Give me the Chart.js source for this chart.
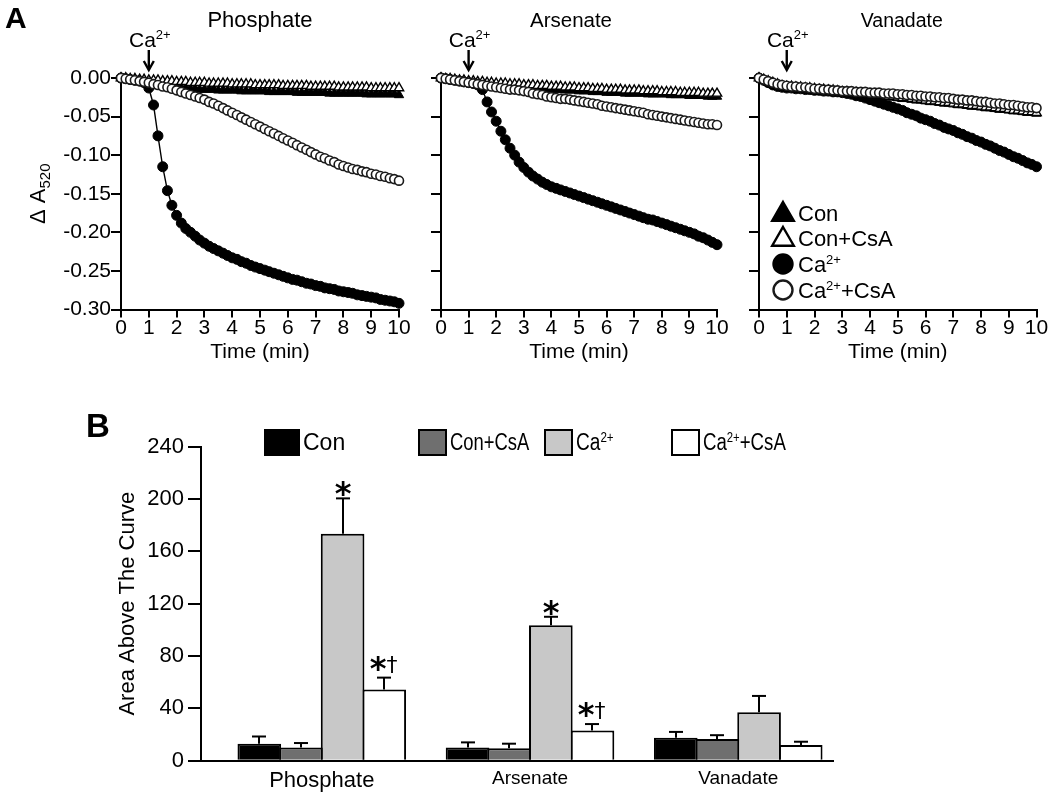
<!DOCTYPE html>
<html><head><meta charset="utf-8">
<script src="https://cdn.jsdelivr.net/npm/chart.js@4.4.1/dist/chart.umd.min.js"></script>
<style>
html,body{margin:0;padding:0;background:#fff;}
#wrap{position:relative;width:1050px;height:793px;overflow:hidden;background:#fff;}
canvas{position:absolute;left:0;top:0;}
</style></head><body>
<div id="wrap">
<canvas id="cPhos" width="1050" height="793"></canvas>
<canvas id="cArs" width="1050" height="793"></canvas>
<canvas id="cVan" width="1050" height="793"></canvas>
<canvas id="cBar" width="1050" height="793"></canvas>
</div>
<script>
// ---------- Panel A data (ΔA520 vs time, 10 s sampling) ----------
const timeMin = [0,0.17,0.33,0.5,0.67,0.83,1,1.17,1.33,1.5,1.67,1.83,2,2.17,2.33,2.5,2.67,2.83,3,3.17,3.33,3.5,3.67,3.83,4,4.17,4.33,4.5,4.67,4.83,5,5.17,5.33,5.5,5.67,5.83,6,6.17,6.33,6.5,6.67,6.83,7,7.17,7.33,7.5,7.67,7.83,8,8.17,8.33,8.5,8.67,8.83,9,9.17,9.33,9.5,9.67,9.83,10];
const seriesLabels = ['Con','Con+CsA','Ca²⁺','Ca²⁺+CsA'];
const panelTitles = ['Phosphate','Arsenate','Vanadate'];
const yTicksA = [0,-0.05,-0.10,-0.15,-0.20,-0.25,-0.30];
const calciumAddTime = 1;

const phosCon = [0,-0.001,-0.002,-0.003,-0.004,-0.005, -0.006,-0.007,-0.008,-0.009,-0.010,-0.011, -0.012,-0.013,-0.013,-0.014,-0.014,-0.015, -0.015,-0.015,-0.015,-0.016,-0.016,-0.016, -0.016,-0.016,-0.017,-0.017,-0.017,-0.017, -0.017,-0.017,-0.018,-0.018,-0.018,-0.018, -0.018,-0.018,-0.019,-0.019,-0.019,-0.019, -0.019,-0.019,-0.019,-0.020,-0.020,-0.020, -0.020,-0.020,-0.020,-0.020,-0.020,-0.021, -0.021,-0.021,-0.021,-0.021,-0.021,-0.021, -0.022];
const phosConCsA = [0,0,-0.001,-0.001,-0.002,-0.002, -0.003,-0.003,-0.003,-0.004,-0.004,-0.004, -0.005,-0.005,-0.005,-0.006,-0.006,-0.006, -0.006,-0.007,-0.007,-0.007,-0.007,-0.007, -0.008,-0.008,-0.008,-0.008,-0.008,-0.009, -0.009,-0.009,-0.009,-0.009,-0.009,-0.010, -0.010,-0.010,-0.010,-0.010,-0.010,-0.011, -0.011,-0.011,-0.011,-0.011,-0.011,-0.012, -0.012,-0.012,-0.012,-0.012,-0.012,-0.012, -0.013,-0.013,-0.013,-0.013,-0.013,-0.013, -0.013];
const phosCa = [0,-0.001,-0.002,-0.003,-0.004,-0.006, -0.013,-0.035,-0.075,-0.115,-0.146,-0.165, -0.178,-0.188,-0.195,-0.200,-0.205,-0.210, -0.214,-0.218,-0.221,-0.224,-0.227,-0.230, -0.233,-0.235,-0.238,-0.240,-0.243,-0.245, -0.247,-0.249,-0.251,-0.253,-0.255,-0.257, -0.259,-0.261,-0.262,-0.264,-0.266,-0.267, -0.269,-0.270,-0.272,-0.273,-0.274,-0.276, -0.277,-0.278,-0.279,-0.281,-0.282,-0.283, -0.284,-0.285,-0.287,-0.288,-0.289,-0.290, -0.292];
const phosCaCsA = [0,-0.001,-0.002,-0.003,-0.004,-0.005, -0.006,-0.008,-0.009,-0.011,-0.012,-0.014, -0.016,-0.018,-0.020,-0.022,-0.024,-0.026, -0.028,-0.031,-0.033,-0.036,-0.039,-0.042, -0.045,-0.048,-0.051,-0.054,-0.057,-0.060, -0.063,-0.066,-0.069,-0.072,-0.075,-0.078, -0.081,-0.084,-0.087,-0.090,-0.093,-0.096, -0.099,-0.102,-0.104,-0.107,-0.109,-0.112, -0.114,-0.116,-0.118,-0.119,-0.121,-0.122, -0.124,-0.125,-0.127,-0.128,-0.130,-0.131, -0.133];

const arsCon = [0,-0.001,-0.002,-0.003,-0.004,-0.005, -0.006,-0.007,-0.007,-0.008,-0.009,-0.009, -0.010,-0.010,-0.011,-0.011,-0.012,-0.012, -0.013,-0.013,-0.013,-0.014,-0.014,-0.014, -0.015,-0.015,-0.015,-0.016,-0.016,-0.016, -0.017,-0.017,-0.017,-0.018,-0.018,-0.018, -0.019,-0.019,-0.019,-0.019,-0.020,-0.020, -0.020,-0.020,-0.020,-0.021,-0.021,-0.021, -0.021,-0.021,-0.022,-0.022,-0.022,-0.022, -0.023,-0.023,-0.023,-0.023,-0.024,-0.024, -0.024];
const arsConCsA = [0,-0.001,-0.001,-0.002,-0.003,-0.003, -0.004,-0.004,-0.005,-0.005,-0.006,-0.006, -0.007,-0.007,-0.007,-0.008,-0.008,-0.008, -0.009,-0.009,-0.009,-0.010,-0.010,-0.010, -0.011,-0.011,-0.011,-0.012,-0.012,-0.012, -0.013,-0.013,-0.013,-0.014,-0.014,-0.014, -0.015,-0.015,-0.015,-0.015,-0.016,-0.016, -0.016,-0.016,-0.017,-0.017,-0.017,-0.017, -0.018,-0.018,-0.018,-0.018,-0.019,-0.019, -0.019,-0.019,-0.019,-0.020,-0.020,-0.020, -0.020];
const arsCa = [0,-0.001,-0.002,-0.003,-0.004,-0.005, -0.006,-0.007,-0.009,-0.015,-0.031,-0.044, -0.056,-0.069,-0.080,-0.091,-0.100,-0.109, -0.116,-0.122,-0.127,-0.131,-0.135,-0.138, -0.141,-0.143,-0.145,-0.147,-0.149,-0.151, -0.153,-0.155,-0.157,-0.159,-0.161,-0.163, -0.165,-0.167,-0.169,-0.171,-0.173,-0.175, -0.177,-0.179,-0.181,-0.183,-0.184,-0.186, -0.188,-0.190,-0.192,-0.194,-0.196,-0.198, -0.200,-0.202,-0.205,-0.207,-0.210,-0.213, -0.216];
const arsCaCsA = [0,-0.001,-0.002,-0.003,-0.004,-0.005, -0.006,-0.007,-0.008,-0.009,-0.010,-0.011, -0.012,-0.013,-0.014,-0.015,-0.015,-0.016, -0.017,-0.018,-0.020,-0.021,-0.022,-0.024, -0.025,-0.026,-0.027,-0.027,-0.028,-0.029, -0.030,-0.031,-0.032,-0.033,-0.034,-0.036, -0.037,-0.038,-0.039,-0.040,-0.041,-0.042, -0.043,-0.044,-0.045,-0.047,-0.048,-0.049, -0.050,-0.051,-0.052,-0.053,-0.054,-0.055, -0.056,-0.057,-0.058,-0.059,-0.060,-0.060, -0.061];

const vanCon = [0,-0.003,-0.006,-0.009,-0.011,-0.012, -0.013,-0.013,-0.014,-0.014,-0.015,-0.015, -0.016,-0.016,-0.017,-0.017,-0.018,-0.018, -0.019,-0.019,-0.020,-0.020,-0.021,-0.021, -0.022,-0.023,-0.023,-0.024,-0.025,-0.025, -0.026,-0.027,-0.027,-0.028,-0.029,-0.029, -0.030,-0.031,-0.031,-0.032,-0.033,-0.033, -0.034,-0.035,-0.035,-0.036,-0.037,-0.037, -0.038,-0.039,-0.039,-0.040,-0.041,-0.041, -0.042,-0.043,-0.043,-0.044,-0.045,-0.045, -0.046];
const vanConCsA = [0,-0.002,-0.004,-0.006,-0.008,-0.010, -0.011,-0.011,-0.012,-0.012,-0.013,-0.013, -0.014,-0.015,-0.015,-0.016,-0.016,-0.017, -0.018,-0.018,-0.019,-0.019,-0.020,-0.020, -0.021,-0.022,-0.022,-0.023,-0.024,-0.024, -0.025,-0.026,-0.026,-0.027,-0.028,-0.028, -0.029,-0.030,-0.030,-0.031,-0.032,-0.032, -0.033,-0.034,-0.034,-0.035,-0.036,-0.036, -0.037,-0.038,-0.038,-0.039,-0.040,-0.040, -0.041,-0.042,-0.042,-0.043,-0.044,-0.044, -0.045];
const vanCa = [0,-0.003,-0.006,-0.009,-0.011,-0.012, -0.013,-0.013,-0.014,-0.014,-0.015,-0.015, -0.016,-0.016,-0.017,-0.017,-0.018,-0.018, -0.019,-0.020,-0.021,-0.023,-0.024,-0.026, -0.028,-0.030,-0.032,-0.034,-0.036,-0.038, -0.040,-0.042,-0.045,-0.047,-0.049,-0.052, -0.054,-0.056,-0.059,-0.061,-0.064,-0.066, -0.068,-0.071,-0.073,-0.076,-0.078,-0.081, -0.083,-0.086,-0.088,-0.091,-0.094,-0.096, -0.099,-0.102,-0.104,-0.107,-0.110,-0.112, -0.115];
const vanCaCsA = [0,-0.002,-0.004,-0.006,-0.008,-0.009, -0.010,-0.011,-0.011,-0.012,-0.012,-0.013, -0.014,-0.014,-0.015,-0.015,-0.016,-0.016, -0.017,-0.017,-0.017,-0.018,-0.018,-0.018, -0.019,-0.019,-0.019,-0.020,-0.020,-0.020, -0.021,-0.021,-0.022,-0.022,-0.023,-0.023, -0.024,-0.024,-0.025,-0.025,-0.026,-0.026, -0.027,-0.028,-0.028,-0.029,-0.029,-0.030, -0.031,-0.031,-0.032,-0.033,-0.033,-0.034, -0.035,-0.035,-0.036,-0.037,-0.038,-0.038, -0.039];

// ---------- Panel B data (area above the curve, mean + SEM) ----------
const groups = ['Phosphate','Arsenate','Vanadate'];
const yTicksB = [0,40,80,120,160,200,240];
const aacCon = [13, 10, 17.5];       const semCon = [5.5, 4, 4.5];
const aacConCsA = [10, 9.5, 16.5];   const semConCsA = [3.5, 3.5, 3];
const aacCa = [173.5, 103.5, 37];    const semCa = [27, 6.5, 12.5];
const aacCaCsA = [54.5, 23, 12];     const semCaCsA = [9, 5, 2.5];
const sigCa = ['*', '*', ''];
const sigCaCsA = ['*†', '*†', ''];

// ---------- helpers ----------
const FONT = '"Liberation Sans", Arial, Helvetica, sans-serif';
Chart.defaults.font.family = FONT;
Chart.defaults.color = '#000';
Chart.defaults.animation = false;

const SUP = {'²':'2','⁺':'+','³':'3'};
function richParts(text, size) {
  const parts = []; let cur = null;
  for (const ch of text) {
    const sup = ch in SUP;
    if (!cur || cur.sup !== sup) { cur = {sup, t:''}; parts.push(cur); }
    cur.t += sup ? SUP[ch] : ch;
  }
  return parts.map(p => p.sup ? {t:p.t, size:Math.round(size*0.6), dy:-size*0.36} : {t:p.t, size, dy:0});
}
function drawRich(ctx, parts, x, y, align) {
  let w = 0;
  parts.forEach(p => { ctx.font = p.size + 'px ' + FONT; p.w = ctx.measureText(p.t).width; w += p.w; });
  let cx = align === 'center' ? x - w/2 : (align === 'right' ? x - w : x);
  ctx.textAlign = 'left'; ctx.textBaseline = 'alphabetic';
  parts.forEach(p => { ctx.font = p.size + 'px ' + FONT; ctx.fillText(p.t, cx, y + p.dy); cx += p.w; });
  return w;
}

const markerStyles = [
  {pointStyle:'triangle', radius:5.4, bg:'#000', border:'#000', bw:1},
  {pointStyle:'triangle', radius:5.4, bg:'#fff', border:'#000', bw:1.4},
  {pointStyle:'circle', radius:5, bg:'#000', border:'#000', bw:1},
  {pointStyle:'circle', radius:4.5, bg:'#fff', border:'#1a1a1a', bw:1.6}
];
const drawOrder = [4, 2, 3, 1];

const kineticsDecor = {
  id: 'kineticsDecor',
  afterDraw(chart, args, o) {
    const ctx = chart.ctx, ca = chart.chartArea, xs = chart.scales.x;
    ctx.save();
    ctx.fillStyle = '#000'; ctx.strokeStyle = '#000';
    ctx.font = o.titleSize + 'px ' + FONT; ctx.textAlign = 'center'; ctx.textBaseline = 'alphabetic';
    ctx.fillText(o.title, (ca.left + ca.right)/2 + o.titleDx, 27);
    const ax = xs.getPixelForValue(calciumAddTime);
    drawRich(ctx, richParts('Ca²⁺', 21), ax + 1, 47, 'center');
    ctx.lineWidth = 2.4; ctx.lineCap = 'butt';
    ctx.beginPath(); ctx.moveTo(ax, ca.top - 28); ctx.lineTo(ax, ca.top - 9); ctx.stroke();
    ctx.beginPath(); ctx.moveTo(ax - 5, ca.top - 17); ctx.lineTo(ax, ca.top - 8); ctx.lineTo(ax + 5, ca.top - 17); ctx.stroke();
    if (o.letter) {
      ctx.font = 'bold 30px ' + FONT; ctx.textAlign = 'left';
      ctx.fillText('A', 5, 28);
    }
    if (o.yTitle) {
      ctx.save();
      ctx.translate(38, (ca.top + ca.bottom)/2);
      ctx.rotate(-Math.PI/2);
      const parts = [{t:'Δ A', size:22, dy:0}, {t:'520', size:15, dy:5}];
      drawRich(ctx, parts, 0, 7, 'center');
      ctx.restore();
    }
    if (o.legend) {
      const rows = [212.5, 237.5, 264, 290];
      chart.data.datasets.forEach((ds, i) => {
        const m = markerStyles[i];
        ctx.fillStyle = m.bg; ctx.strokeStyle = m.border;
        ctx.lineWidth = 2.4;
        Chart.helpers.drawPoint(ctx, {pointStyle:m.pointStyle, radius: m.pointStyle === 'circle' ? 9.5 : 12.5, rotation:0, borderWidth:2.4}, 783, rows[i] + (m.pointStyle==='triangle'?2:0));
        ctx.fillStyle = '#000';
        drawRich(ctx, richParts(ds.label, 22), 798, rows[i] + 8, 'left');
      });
    }
    ctx.restore();
  }
};

function kineticsChart(id, series, o) {
  const datasets = series.map((vals, i) => ({
    label: seriesLabels[i],
    data: vals.map((v, k) => ({x: timeMin[k], y: v})),
    borderColor: '#000', borderWidth: 1.4, tension: 0,
    pointStyle: markerStyles[i].pointStyle,
    pointRadius: markerStyles[i].radius,
    pointBackgroundColor: markerStyles[i].bg,
    pointBorderColor: markerStyles[i].border,
    pointBorderWidth: markerStyles[i].bw,
    order: drawOrder[i], clip: false
  }));
  return new Chart(document.getElementById(id), {
    type: 'line',
    data: {datasets},
    options: {
      responsive: false, devicePixelRatio: 1, animation: false,
      layout: {padding: {left: o.left - 62, right: 1050 - o.right, top: 78, bottom: 793 - 309.5 - 55}},
      plugins: {legend: {display: false}, tooltip: {enabled: false}, kineticsDecor: o},
      scales: {
        x: {
          type: 'linear', min: 0, max: 10,
          afterFit: s => { s.height = 55; },
          ticks: {stepSize: 1, font: {size: 21}, color: '#000', padding: -2, maxRotation: 0},
          grid: {drawOnChartArea: false, drawTicks: true, tickLength: 8, color: '#000', lineWidth: 2},
          border: {display: true, color: '#000', width: 2},
          title: {display: true, text: 'Time (min)', font: {size: 21}, color: '#000', padding: 0}
        },
        y: {
          type: 'linear', min: -0.30, max: 0,
          afterFit: s => { s.width = 62; },
          afterBuildTicks: s => { s.ticks = yTicksA.map(v => ({value: v})); },
          ticks: {display: o.showYLabels, font: {size: 21}, color: '#000', padding: 0,
                  callback: v => Math.abs(v) < 1e-9 ? '0.00' : v.toFixed(2)},
          grid: {drawOnChartArea: false, drawTicks: true, tickLength: 10, color: '#000', lineWidth: 2},
          border: {display: true, color: '#000', width: 2}
        }
      }
    },
    plugins: [kineticsDecor]
  });
}

kineticsChart('cPhos', [phosCon, phosConCsA, phosCa, phosCaCsA],
  {left: 121, right: 399, showYLabels: true, title: panelTitles[0], titleSize: 22, titleDx: 0, letter: true, yTitle: true, legend: false});
kineticsChart('cArs', [arsCon, arsConCsA, arsCa, arsCaCsA],
  {left: 441, right: 717, showYLabels: false, title: panelTitles[1], titleSize: 20.5, titleDx: -8, letter: false, yTitle: false, legend: false});
kineticsChart('cVan', [vanCon, vanConCsA, vanCa, vanCaCsA],
  {left: 759, right: 1036.5, showYLabels: false, title: panelTitles[2], titleSize: 19.5, titleDx: 4, letter: false, yTitle: false, legend: true});

// ---------- Panel B ----------
const barColors = ['#000000', '#6f6f6f', '#c8c8c8', '#ffffff'];
const barVals = [aacCon, aacConCsA, aacCa, aacCaCsA];
const barErrs = [semCon, semConCsA, semCa, semCaCsA];
const barSigs = [null, null, sigCa, sigCaCsA];

const barDecor = {
  id: 'barDecor',
  afterDatasetsDraw(chart) {
    const ctx = chart.ctx, ys = chart.scales.y;
    ctx.save();
    ctx.strokeStyle = '#000'; ctx.fillStyle = '#000'; ctx.lineWidth = 2;
    chart.data.datasets.forEach((ds, i) => {
      const meta = chart.getDatasetMeta(i);
      meta.data.forEach((bar, j) => {
        const top = ys.getPixelForValue(ds.values[j] + ds.errors[j]);
        const x = Math.round(bar.x);
        ctx.beginPath(); ctx.moveTo(x, bar.y); ctx.lineTo(x, top); ctx.stroke();
        ctx.beginPath(); ctx.moveTo(x - 7, top); ctx.lineTo(x + 7, top); ctx.stroke();
        const s = ds.sig ? ds.sig[j] : '';
        if (s) {
          ctx.textBaseline = 'alphabetic'; ctx.textAlign = 'center';
          ctx.font = 'bold 32px "DejaVu Sans", sans-serif';
          if (s === '*') {
            ctx.fillText('*', x, top + 6);
          } else {
            ctx.fillText('*', x - 6, top + 1);
            ctx.font = '22px "DejaVu Sans", sans-serif';
            ctx.fillText('†', x + 8, top - 6);
          }
        }
      });
    });
    ctx.restore();
  },
  afterDraw(chart) {
    const ctx = chart.ctx;
    ctx.save();
    ctx.fillStyle = '#000';
    ctx.font = 'bold 33px ' + FONT; ctx.textAlign = 'left'; ctx.textBaseline = 'alphabetic';
    ctx.fillText('B', 86, 437);
    const boxX = [264, 418, 544, 671], boxW = [36, 29, 29, 29];
    const textX = [303, 450, 576, 703], textScale = [1, 0.8, 0.83, 0.81];
    chart.data.datasets.forEach((ds, i) => {
      ctx.fillStyle = ds.backgroundColor;
      ctx.fillRect(boxX[i], 429, boxW[i], 27);
      ctx.strokeStyle = '#000'; ctx.lineWidth = 2;
      ctx.strokeRect(boxX[i] + 1, 430, boxW[i] - 2, 25);
      ctx.fillStyle = '#000';
      ctx.save(); ctx.translate(textX[i], 450); ctx.scale(textScale[i], 1);
      drawRich(ctx, richParts(ds.label, 23), 0, 0, 'left');
      ctx.restore();
    });
    ctx.restore();
  }
};

new Chart(document.getElementById('cBar'), {
  type: 'bar',
  data: {
    datasets: barVals.map((vals, i) => ({
      label: seriesLabels[i],
      data: vals.map((v, j) => ({x: j, y: v})),
      values: vals, errors: barErrs[i], sig: barSigs[i],
      backgroundColor: barColors[i], borderColor: '#000', borderWidth: 2,
      categoryPercentage: 0.8, barPercentage: 1.048
    }))
  },
  options: {
    responsive: false, devicePixelRatio: 1, animation: false,
    layout: {padding: {left: 201 - 86.2, right: 1050 - 833, top: 446.7, bottom: 793 - 760.7 - 32}},
    plugins: {legend: {display: false}, tooltip: {enabled: false}},
    scales: {
      x: {
        type: 'linear', min: -0.58, max: 2.455, offset: false,
        afterFit: s => { s.height = 32; },
        afterBuildTicks: s => { s.ticks = groups.map((g, i) => ({value: i})); },
        ticks: {autoSkip: false, maxRotation: 0, padding: 7, color: '#000',
                font: c => ({size: c.index === 0 ? 22 : 19}),
                callback: v => groups[v]},
        grid: {display: false, drawTicks: false, offset: false},
        border: {display: true, color: '#000', width: 2}
      },
      y: {
        type: 'linear', min: 0, max: 240,
        afterFit: s => { s.width = 86.2; },
        afterBuildTicks: s => { s.ticks = yTicksB.map(v => ({value: v})); },
        ticks: {font: {size: 22}, color: '#000', padding: 4},
        grid: {drawOnChartArea: false, drawTicks: true, tickLength: 13, color: '#000', lineWidth: 2},
        border: {display: true, color: '#000', width: 2},
        title: {display: true, text: 'Area Above The Curve', font: {size: 22}, color: '#000', padding: 0}
      }
    }
  },
  plugins: [barDecor]
});
</script>
</body></html>
